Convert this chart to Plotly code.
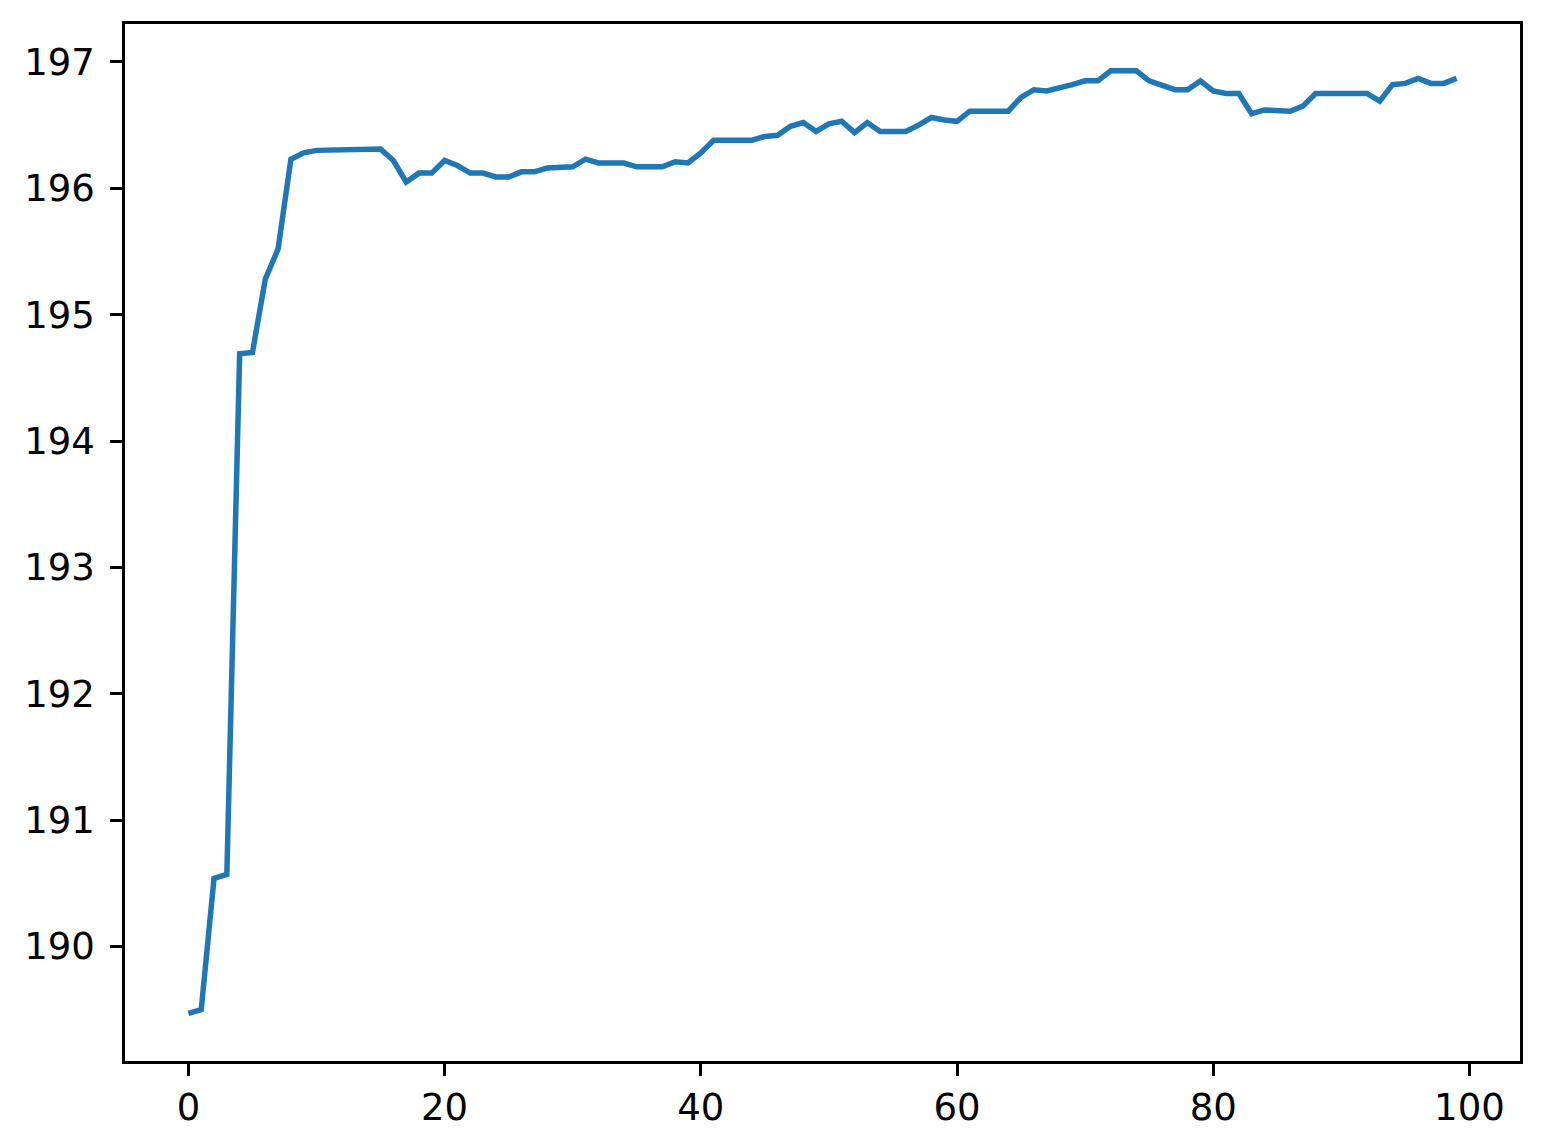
import plotly.graph_objects as go

# values, one per step 0..99
step = list(range(100))
score = [
    189.47, 189.50, 190.54, 190.57, 194.69, 194.70, 195.28, 195.52, 196.23, 196.28,
    196.30, 196.30, 196.31, 196.31, 196.31, 196.31, 196.22, 196.05, 196.12, 196.12,
    196.22, 196.18, 196.12, 196.12, 196.09, 196.09, 196.13, 196.13, 196.16, 196.17,
    196.17, 196.23, 196.20, 196.20, 196.20, 196.17, 196.17, 196.17, 196.21, 196.20,
    196.28, 196.38, 196.38, 196.38, 196.38, 196.41, 196.42, 196.49, 196.52, 196.45,
    196.51, 196.53, 196.44, 196.52, 196.45, 196.45, 196.45, 196.50, 196.56, 196.54,
    196.53, 196.61, 196.61, 196.61, 196.61, 196.72, 196.78, 196.77, 196.79, 196.82,
    196.85, 196.85, 196.93, 196.93, 196.93, 196.85, 196.82, 196.78, 196.78, 196.85,
    196.77, 196.75, 196.75, 196.59, 196.62, 196.61, 196.61, 196.65, 196.75, 196.75,
    196.75, 196.75, 196.75, 196.69, 196.82, 196.83, 196.87, 196.83, 196.83, 196.87,
]

fig = go.Figure()
fig.add_trace(go.Scatter(x=step, y=score, mode='lines',
                         line=dict(color='#1f77b4', width=5.5)))

axis_style = dict(showgrid=False, zeroline=False, showline=True, mirror=True,
                  linecolor='black', linewidth=2.5, ticks='outside',
                  ticklen=12, tickwidth=2.5, tickcolor='black', automargin=False,
                  tickfont=dict(family='DejaVu Sans', size=37, color='black'))

fig.update_xaxes(range=[-4.95, 103.95], tickvals=[0, 20, 40, 60, 80, 100],
                 ticklabelstandoff=0, **axis_style)
fig.update_yaxes(range=[189.094, 197.30], tickvals=list(range(190, 198)),
                 ticklabelstandoff=8, **axis_style)

# page body adds an 8px margin, so the figure is shrunk to fit the window
fig.update_layout(width=1525, height=1127,
                  margin=dict(l=117, r=13, t=16, b=74),
                  plot_bgcolor='white', paper_bgcolor='white',
                  showlegend=False)

fig.write_html("out.html")
